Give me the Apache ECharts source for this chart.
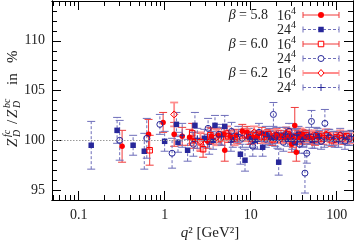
<!DOCTYPE html>
<html>
<head>
<meta charset="utf-8">
<script src="https://cdn.jsdelivr.net/npm/echarts@6/dist/echarts.min.js"></script>
<style>
html, body { margin: 0; padding: 0; background: #fff; }
#chart { width: 354px; height: 245px; }
</style>
</head>
<body>
<div id="chart"></div>
<script>
// axis ranges and ticks
const xMin = 0.049, xMax = 155, yMin = 94, yMax = 114;
const xMajor = [0.1, 1, 10, 100];
const xLabels = ['0.1', '1', '10', '100'];
const xMinor = [0.05, 0.06, 0.07, 0.08, 0.09, 0.2, 0.3, 0.4, 0.5, 0.6, 0.7, 0.8, 0.9,
    2, 3, 4, 5, 6, 7, 8, 9, 20, 30, 40, 50, 60, 70, 80, 90];
const yMajor = [95, 100, 105, 110];
const yMinor = [95, 96, 97, 98, 99, 100, 101, 102, 103, 104, 105, 106, 107, 108, 109, 110, 111, 112, 113];

// [q^2, Z ratio in %, error]
// beta = 5.8, 16^4
const b58_16 = [
    [0.32, 99.4, 1.6], [0.65, 100.6, 1.5], [0.96, 101.8, 1.0], [1.29, 100.6, 1.2],
    [1.6, 100.4, 0.9], [1.95, 100.3, 0.8], [2.2, 100.0, 0.8], [3.16, 99.9, 0.7],
    [3.5, 100.4, 0.8], [4.2, 100.5, 0.7], [4.9, 100.6, 0.6], [5.0, 99.0, 1.1],
    [5.8, 100.4, 0.6], [6.8, 100.5, 0.6], [8.0, 100.9, 0.7], [9.1, 100.8, 0.6],
    [10.5, 100.3, 0.6], [12.0, 100.4, 0.5], [13.5, 100.7, 0.6], [15.5, 100.5, 0.5],
    [17.5, 100.3, 0.6], [20.0, 100.6, 0.6], [22.5, 100.4, 0.6], [25.0, 100.2, 0.5],
    [28.0, 100.5, 0.6], [30.0, 99.6, 0.8], [32.6, 101.5, 1.8], [34.0, 98.8, 0.9],
    [37.0, 100.3, 0.6], [40.0, 100.6, 0.5], [44.0, 100.4, 0.6], [50.0, 100.2, 0.6]
];
// beta = 5.8, 24^4
const b58_24 = [
    [0.14, 99.5, 2.4], [0.28, 101.0, 1.3], [0.43, 99.5, 1.0], [0.58, 98.9, 1.8],
    [1.0, 99.9, 1.0], [1.37, 101.6, 1.2], [1.43, 99.8, 1.0], [1.85, 99.0, 1.1],
    [2.25, 101.5, 1.3], [2.9, 100.2, 0.9], [3.66, 100.0, 0.9], [3.85, 101.5, 1.0],
    [5.0, 101.4, 1.1], [6.2, 100.1, 0.8], [7.6, 98.6, 1.0], [8.6, 98.0, 1.1],
    [9.5, 100.4, 0.8], [11.0, 100.0, 0.8], [13.8, 99.3, 0.9], [15.0, 100.6, 0.8],
    [17.0, 100.2, 0.7], [19.3, 100.2, 0.8], [21.2, 97.8, 1.3], [24.0, 100.5, 0.8],
    [27.0, 100.1, 0.7], [30.0, 100.4, 0.8], [33.0, 99.8, 0.9], [36.0, 100.6, 0.8],
    [40.0, 100.1, 0.8], [45.0, 100.3, 0.7], [52.0, 100.0, 0.8], [60.0, 100.4, 0.8]
];
// beta = 6.0, 16^4
const b60_16 = [
    [0.67, 99.0, 1.5], [2.09, 100.7, 1.0], [2.62, 99.8, 0.9], [2.8, 99.1, 0.8],
    [3.4, 100.5, 0.8], [4.5, 100.2, 0.7], [5.5, 100.4, 0.6], [7.0, 100.3, 0.6],
    [8.5, 100.6, 0.6], [10.0, 100.2, 0.6], [11.5, 100.5, 0.5], [13.5, 100.3, 0.6],
    [16.0, 100.6, 0.5], [18.0, 100.1, 0.6], [21.0, 100.4, 0.6], [24.0, 100.3, 0.5],
    [27.0, 100.6, 0.6], [31.0, 100.0, 0.7], [35.0, 100.4, 0.6], [39.0, 100.2, 0.6],
    [44.0, 100.5, 0.5], [50.0, 100.3, 0.6], [56.0, 100.1, 0.6], [62.0, 100.4, 0.5],
    [70.0, 100.2, 0.6], [78.0, 100.5, 0.6], [88.0, 100.0, 0.6], [100.0, 100.3, 0.5],
    [115.0, 100.2, 0.6], [130.0, 100.4, 0.5]
];
// beta = 6.0, 24^4
const b60_24 = [
    [0.30, 100.0, 2.0], [0.62, 100.2, 2.0], [0.88, 101.6, 1.0], [1.22, 98.7, 1.5],
    [2.16, 99.6, 1.2], [3.2, 101.2, 1.0], [4.3, 100.6, 1.0], [6.0, 100.9, 0.9],
    [8.0, 100.2, 0.9], [10.6, 99.4, 1.0], [12.5, 100.8, 0.9], [15.0, 100.1, 0.8],
    [18.4, 102.6, 1.2], [20.0, 100.5, 0.8], [24.0, 99.8, 0.9], [28.0, 100.9, 0.8],
    [32.0, 100.3, 0.8], [37.0, 99.6, 0.9], [42.8, 96.7, 2.0], [45.0, 98.7, 1.0],
    [51.0, 101.9, 1.1], [58.0, 100.5, 0.8], [66.0, 99.9, 0.8], [73.0, 101.7, 1.4],
    [82.0, 100.3, 0.8], [95.0, 100.1, 0.8], [110.0, 100.5, 0.7], [125.0, 99.9, 0.8],
    [140.0, 100.2, 0.7]
];
// beta = 6.2, 16^4
const b62_16 = [
    [1.29, 102.6, 1.2], [2.6, 99.9, 0.9], [4.0, 100.3, 0.8], [5.3, 100.7, 0.7],
    [6.5, 100.2, 0.7], [9.0, 100.5, 0.6], [11.0, 100.8, 0.6], [14.5, 100.3, 0.6],
    [19.0, 100.5, 0.6], [23.0, 100.2, 0.5], [26.0, 100.7, 0.6], [29.0, 100.4, 0.6],
    [33.0, 100.2, 0.5], [38.0, 100.6, 0.6], [47.0, 100.3, 0.5], [54.0, 100.5, 0.5],
    [65.0, 100.2, 0.5], [75.0, 100.6, 0.5], [85.0, 100.3, 0.5], [98.0, 100.1, 0.5],
    [110.0, 100.5, 0.5], [125.0, 100.3, 0.5], [145.0, 100.2, 0.5]
];
// beta = 6.2, 24^4
const b62_24 = [
    [1.6, 100.5, 1.2], [2.4, 100.2, 1.0], [3.3, 99.6, 1.0], [4.6, 100.4, 0.9],
    [5.9, 99.8, 0.9], [7.2, 100.6, 0.8], [9.8, 100.1, 0.8], [12.0, 99.9, 0.8],
    [16.5, 100.4, 0.8], [20.5, 100.0, 0.8], [25.5, 100.6, 0.7], [30.5, 99.9, 0.8],
    [34.5, 100.5, 0.7], [40.5, 100.1, 0.7], [48.0, 100.6, 0.7], [55.0, 99.9, 0.7],
    [63.0, 100.3, 0.7], [72.0, 100.0, 0.7], [80.0, 100.5, 0.6], [92.0, 100.2, 0.7],
    [105.0, 99.9, 0.6], [120.0, 100.3, 0.6], [135.0, 100.1, 0.6], [148.0, 100.4, 0.6]
];

const FONT = 'Liberation Serif';
const RED = '#ff0000', REDLINE = '#f03a3a', PINK = '#ff8c8c';
const BLUE = '#27279a', BLUELINE = '#6e6eba';

const sets = [
    { beta: '5.8', vol: '16', data: b58_16, line: REDLINE, width: 1, dash: null, mark: 'circle', fill: RED, stroke: RED },
    { beta: '', vol: '24', data: b58_24, line: BLUELINE, width: 1, dash: [3, 2], mark: 'rect', fill: BLUE, stroke: BLUE },
    { beta: '6.0', vol: '16', data: b60_16, line: REDLINE, width: 1, dash: null, mark: 'rect', fill: 'none', stroke: RED },
    { beta: '', vol: '24', data: b60_24, line: BLUELINE, width: 1, dash: [3, 2], mark: 'circle', fill: 'none', stroke: BLUE },
    { beta: '6.2', vol: '16', data: b62_16, line: PINK, width: 1.8, dash: null, mark: 'diamond', fill: 'none', stroke: RED },
    { beta: '', vol: '24', data: b62_24, line: BLUELINE, width: 1, dash: [3, 2], mark: 'path://M5,0L5,10M0,5L10,5', fill: 'none', stroke: BLUE }
];

const chart = echarts.init(document.getElementById('chart'), null, { renderer: 'canvas' });

function errRender(s) {
    return function (params, api) {
        const q = api.value(0), v = api.value(1), e = api.value(2);
        const lo = api.coord([q, v - e]);
        const hi = api.coord([q, v + e]);
        const hw = 4;
        const bar = { stroke: s.line, lineWidth: s.width, lineDash: s.dash, fill: null };
        const cap = { stroke: s.line, lineWidth: s.width, fill: null };
        return {
            type: 'group',
            children: [
                { type: 'line', shape: { x1: lo[0], y1: lo[1], x2: hi[0], y2: hi[1] }, style: bar },
                { type: 'line', shape: { x1: lo[0] - hw, y1: lo[1], x2: lo[0] + hw, y2: lo[1] }, style: cap },
                { type: 'line', shape: { x1: hi[0] - hw, y1: hi[1], x2: hi[0] + hw, y2: hi[1] }, style: cap }
            ]
        };
    };
}

const series = [];
sets.forEach(function (s, i) {
    series.push({
        type: 'custom',
        renderItem: errRender(s),
        data: s.data,
        encode: { x: 0, y: 1 },
        silent: true,
        z: 2
    });
    const sc = {
        type: 'scatter',
        data: s.data.map(function (d) { return [d[0], d[1]]; }),
        symbol: s.mark,
        symbolSize: s.mark === 'diamond' ? 7 : (s.mark === 'circle' && s.fill === 'none' ? 6 : 5.5),
        itemStyle: { color: s.fill, borderColor: s.stroke, borderWidth: s.fill === 'none' ? 1 : 0, opacity: 1 },
        silent: true,
        z: 2
    };
    if (i === 0) {
        sc.markLine = {
            silent: true,
            symbol: 'none',
            label: { show: false },
            lineStyle: { color: '#999', type: [1.5, 1.5], width: 1 },
            data: [{ yAxis: 100 }]
        };
    }
    series.push(sc);
});

// legend drawn as graphic, rows from top
const rowY = [15, 29.5, 44, 58.5, 73, 87.5];
const legend = [];
sets.forEach(function (s, i) {
    const y = rowY[i];
    if (s.beta) {
        legend.push({ type: 'text', x: 268, y: y, style: {
            text: '{i|β} = ' + s.beta, rich: { i: { fontStyle: 'italic', fontFamily: FONT, fontSize: 14 } },
            fontFamily: FONT, fontSize: 14, fill: '#222', align: 'right', verticalAlign: 'middle' } });
    }
    legend.push({ type: 'text', x: 277, y: y + 1, style: { text: s.vol, fontFamily: FONT, fontSize: 14, fill: '#222', align: 'left', verticalAlign: 'middle' } });
    legend.push({ type: 'text', x: 291, y: y - 4, style: { text: '4', fontFamily: FONT, fontSize: 10, fill: '#222', align: 'left', verticalAlign: 'middle' } });
    const x1 = 303, x2 = 339, cx = 321;
    legend.push({ type: 'line', shape: { x1: x1, y1: y, x2: x2, y2: y }, style: { stroke: s.line, lineWidth: s.width, lineDash: s.dash } });
    legend.push({ type: 'line', shape: { x1: x1, y1: y - 3, x2: x1, y2: y + 3 }, style: { stroke: s.line, lineWidth: 1 } });
    legend.push({ type: 'line', shape: { x1: x2, y1: y - 3, x2: x2, y2: y + 3 }, style: { stroke: s.line, lineWidth: 1 } });
    const mstyle = { fill: s.fill === 'none' ? '#fff' : s.fill, stroke: s.stroke, lineWidth: s.fill === 'none' ? 1 : 0 };
    if (s.mark === 'circle') {
        legend.push({ type: 'circle', shape: { cx: cx, cy: y, r: 3 }, style: mstyle });
    } else if (s.mark === 'rect') {
        legend.push({ type: 'rect', shape: { x: cx - 2.75, y: y - 2.75, width: 5.5, height: 5.5 }, style: mstyle });
    } else if (s.mark === 'diamond') {
        legend.push({ type: 'polygon', shape: { points: [[cx, y - 3.5], [cx + 3, y], [cx, y + 3.5], [cx - 3, y]] }, style: mstyle });
    } else {
        legend.push({ type: 'line', shape: { x1: cx - 3.5, y1: y, x2: cx + 3.5, y2: y }, style: { stroke: BLUE, lineWidth: 1 } });
        legend.push({ type: 'line', shape: { x1: cx, y1: y - 3.5, x2: cx, y2: y + 3.5 }, style: { stroke: BLUE, lineWidth: 1 } });
    }
});

// y axis title, rotated
const it = function (t, x, y, size) {
    return { type: 'text', x: x, y: y, style: { text: t, fontFamily: FONT, fontStyle: 'italic', fontSize: size, fill: '#222', align: 'left', verticalAlign: 'middle' } };
};
const rm = function (t, x, y, size) {
    return { type: 'text', x: x, y: y, style: { text: t, fontFamily: FONT, fontSize: size, fill: '#222', align: 'left', verticalAlign: 'middle' } };
};
const yTitle = {
    type: 'group', x: 13, y: 147, rotation: Math.PI / 2,
    children: [
        it('Z', 0, 0, 15), it('fc', 10, -6, 10), it('D', 10, 4, 10),
        rm('/', 23, 0, 15),
        it('Z', 29, 0, 15), it('bc', 39, -6, 10), it('D', 39, 4, 10),
        rm('in', 62, 0, 15), rm('%', 84, 0, 15)
    ]
};
const xTitle = {
    type: 'text', x: 210, y: 233,
    style: { text: '{i|q}² [GeV²]', rich: { i: { fontStyle: 'italic', fontFamily: FONT, fontSize: 15 } },
        fontFamily: FONT, fontSize: 15, fill: '#222', align: 'center', verticalAlign: 'middle' }
};

function xAxisDef(pos, vals, len, labels) {
    return {
        type: 'log', logBase: 10, min: xMin, max: xMax, position: pos,
        axisLine: { show: true, lineStyle: { color: '#000', width: 1 } },
        axisTick: { show: true, inside: true, length: len, customValues: vals, lineStyle: { color: '#000' } },
        axisLabel: labels ? { show: true, customValues: xMajor, margin: 8, fontFamily: FONT, fontSize: 14, color: '#222',
            formatter: function (v) {
                for (let k = 0; k < xMajor.length; k++) { if (Math.abs(Math.log10(v) - Math.log10(xMajor[k])) < 1e-6) return xLabels[k]; }
                return '';
            } } : { show: false },
        splitLine: { show: false }
    };
}
function yAxisDef(pos, vals, len, labels) {
    return {
        type: 'value', min: yMin, max: yMax, position: pos,
        axisLine: { show: true, lineStyle: { color: '#000', width: 1 } },
        axisTick: { show: true, inside: true, length: len, customValues: vals, lineStyle: { color: '#000' } },
        axisLabel: labels ? { show: true, customValues: yMajor, margin: 7, fontFamily: FONT, fontSize: 14, color: '#222' } : { show: false },
        splitLine: { show: false }
    };
}

chart.setOption({
    animation: false,
    backgroundColor: '#fff',
    grid: { left: 52, right: 1, top: 1, bottom: 45 },
    xAxis: [
        xAxisDef('bottom', xMajor, 9, true),
        xAxisDef('bottom', xMinor, 5, false),
        xAxisDef('top', xMajor, 9, false),
        xAxisDef('top', xMinor, 5, false)
    ],
    yAxis: [
        yAxisDef('left', yMajor, 9, true),
        yAxisDef('left', yMinor, 5, false),
        yAxisDef('right', yMajor, 9, false),
        yAxisDef('right', yMinor, 5, false)
    ],
    series: series,
    graphic: legend.concat([yTitle, xTitle])
});
</script>
</body>
</html>
